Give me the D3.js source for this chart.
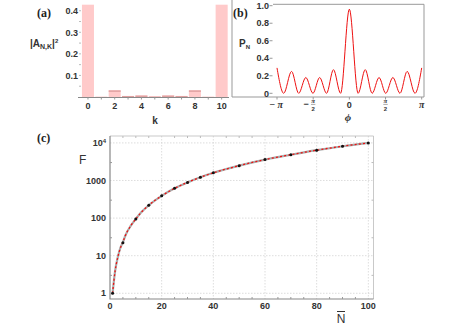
<!DOCTYPE html>
<html>
<head>
<meta charset="utf-8">
<script src="https://cdn.jsdelivr.net/npm/d3@7"></script>
<style>
  body { margin: 0; background: #fff; }
  svg text { font-family: "Liberation Sans", Arial, sans-serif; }
</style>
</head>
<body>
<svg id="fig" width="463" height="328"></svg>
<script>
// (a) amplitude distribution
const kValues = [0, 1, 2, 3, 4, 5, 6, 7, 8, 9, 10];
const ampSq = [0.43, 0.002, 0.031, 0.005, 0.007, 0.003, 0.007, 0.005, 0.031, 0.002, 0.43];
const ampTicks = [0.1, 0.2, 0.3, 0.4];

// (b) phase response, read at the extrema of the curve
const phi = [-3.14159, -2.85, -2.51, -2.2, -1.89, -1.58, -1.29, -0.99, -0.69, -0.38, 0,
             0.38, 0.69, 0.99, 1.29, 1.58, 1.89, 2.2, 2.51, 2.85, 3.14159];
const pN = [0.29, 0, 0.25, 0, 0.18, 0, 0.18, 0, 0.27, 0, 0.96,
            0, 0.27, 0, 0.18, 0, 0.18, 0, 0.25, 0, 0.29];
const pTicks = [0, 0.2, 0.4, 0.6, 0.8, 1.0];

// (c) F versus mean N
const nCurve = [1, 2, 3, 4, 5, 6, 8, 10, 12, 15, 20, 25, 30, 35, 40, 50, 60, 70, 80, 90, 100];
const fCurve = [1, 4, 9, 16, 23, 35, 62, 95, 140, 220, 390, 620, 890, 1220, 1600, 2480, 3600, 4850, 6400, 8150, 10000];
const nPoints = [1, 5, 10, 15, 20, 25, 30, 35, 40, 50, 60, 70, 80, 90, 100];
const fPoints = [1, 22, 95, 220, 390, 620, 890, 1220, 1600, 2480, 3600, 4850, 6400, 8150, 10000];
const nTicks = [0, 20, 40, 60, 80, 100];
const fTicks = [1, 10, 100, 1000, 10000];

const svg = d3.select("#fig");
const tickFont = "bold 9px 'Liberation Sans', Arial, sans-serif";
const panelFont = "bold 12px 'Liberation Serif', 'DejaVu Serif', serif";

// ---------- panel (a) ----------
const xa = d3.scaleBand().domain(kValues).range([80.6, 229]).padding(0.1);
const ya = d3.scaleLinear().domain([0, 0.428]).range([97, 4.7]);
const ga = svg.append("g");

ga.selectAll("rect.bar")
  .data(kValues.map((k, i) => ({k: k, v: ampSq[i]})))
  .join("rect")
  .attr("x", d => xa(d.k))
  .attr("y", d => ya(Math.min(d.v, 0.428)))
  .attr("width", xa.bandwidth())
  .attr("height", d => ya(0) - ya(Math.min(d.v, 0.428)))
  .attr("fill", d => d.k === 5 ? "#f0a0a0" : "#ffcaca");

// darker cap on the small bars
ga.selectAll("line.cap")
  .data(kValues.map((k, i) => ({k: k, v: ampSq[i]})).filter(d => d.v < 0.4 && d.v > 0.004))
  .join("line")
  .attr("x1", d => xa(d.k)).attr("x2", d => xa(d.k) + xa.bandwidth())
  .attr("y1", d => ya(d.v) + 0.8).attr("y2", d => ya(d.v) + 0.8)
  .attr("stroke", d => d.k === 5 ? "#dd5555" : "#e0a0a0").attr("stroke-width", 1.5);

ga.append("line")
  .attr("x1", 78).attr("x2", 229).attr("y1", 97.5).attr("y2", 97.5)
  .attr("stroke", "#888");

ga.selectAll("line.kt").data(kValues).join("line")
  .attr("x1", d => xa(d) + xa.bandwidth() / 2).attr("x2", d => xa(d) + xa.bandwidth() / 2)
  .attr("y1", 97.5).attr("y2", 99.5).attr("stroke", "#999");

ga.selectAll("text.kl").data(kValues.filter(k => k % 2 === 0)).join("text")
  .attr("x", d => xa(d) + xa.bandwidth() / 2).attr("y", 108.5)
  .attr("text-anchor", "middle").style("font", tickFont).attr("fill", "#333")
  .text(d => d);

ga.selectAll("line.at").data([0.05, 0.1, 0.15, 0.2, 0.25, 0.3, 0.35, 0.4]).join("line")
  .attr("x1", 79).attr("x2", 81).attr("y1", d => ya(d)).attr("y2", d => ya(d))
  .attr("stroke", "#bbb");

ga.selectAll("text.al").data(ampTicks).join("text")
  .attr("x", 78).attr("y", d => ya(d) + 3.2)
  .attr("text-anchor", "end").style("font", tickFont).attr("fill", "#333")
  .text(d => d3.format(".1f")(d));

const alab = ga.append("text").attr("x", 30).attr("y", 47).attr("fill", "#333")
  .style("font", "bold 10px 'Liberation Sans', Arial, sans-serif");
alab.append("tspan").text("|A");
alab.append("tspan").attr("dy", 2).style("font-size", "7px").text("N,K");
alab.append("tspan").attr("dy", -2).text("|");
alab.append("tspan").attr("dy", -4).style("font-size", "6px").text("2");

ga.append("text").attr("x", 155).attr("y", 124).attr("text-anchor", "middle")
  .style("font", "bold 10px 'Liberation Sans', Arial, sans-serif").attr("fill", "#333").text("k");

ga.append("text").attr("x", 37).attr("y", 17).style("font", panelFont).attr("fill", "#222").text("(a)");

// ---------- panel (b) ----------
const xb = d3.scaleLinear().domain([-Math.PI, Math.PI]).range([277, 421.7]);
const yb = d3.scaleLinear().domain([0, 1]).range([93.3, 5.7]);
const gb = svg.append("g");

gb.append("path")
  .attr("d", "M273,4.3H424V97H232V0")
  .attr("fill", "none").attr("stroke", "#999");

gb.append("path")
  .datum(phi.map((p, i) => [p, pN[i]]))
  .attr("d", d3.line().x(d => xb(d[0])).y(d => yb(d[1])).curve(d3.curveMonotoneX))
  .attr("fill", "none").attr("stroke", "#ee1111").attr("stroke-width", 1);

gb.selectAll("line.yt").data(pTicks).join("line")
  .attr("x1", 269.5).attr("x2", 272.5).attr("y1", d => yb(d)).attr("y2", d => yb(d))
  .attr("stroke", "#999");
gb.selectAll("text.yl").data(pTicks).join("text")
  .attr("x", 269).attr("y", d => yb(d) + 3.2)
  .attr("text-anchor", "end").style("font", tickFont).attr("fill", "#333")
  .text(d => d === 0 ? "0" : d3.format(".1f")(d));

const phiTicks = [-Math.PI, -Math.PI / 2, 0, Math.PI / 2, Math.PI];
gb.selectAll("line.xt").data(phiTicks).join("line")
  .attr("x1", d => xb(d)).attr("x2", d => xb(d)).attr("y1", 97).attr("y2", 99.5)
  .attr("stroke", "#999");

const piFont = "italic bold 10px 'Liberation Serif', serif";
gb.append("text").attr("x", xb(-Math.PI) - 1).attr("y", 108).attr("text-anchor", "middle")
  .style("font", piFont).attr("fill", "#333").text("− π");
gb.append("text").attr("x", xb(Math.PI)).attr("y", 108).attr("text-anchor", "middle")
  .style("font", piFont).attr("fill", "#333").text("π");
gb.append("text").attr("x", xb(0)).attr("y", 108).attr("text-anchor", "middle")
  .style("font", tickFont).attr("fill", "#333").text("0");
[-1, 1].forEach(s => {
  const cx = xb(s * Math.PI / 2);
  if (s < 0) {
    gb.append("text").attr("x", cx - 4.5).attr("y", 107).attr("text-anchor", "end")
      .style("font", "bold 9px 'Liberation Sans', sans-serif").attr("fill", "#333").text("−");
  }
  gb.append("text").attr("x", cx).attr("y", 103).attr("text-anchor", "middle")
    .style("font", "italic bold 7px 'Liberation Serif', serif").attr("fill", "#333").text("π");
  gb.append("line").attr("x1", cx - 2.2).attr("x2", cx + 2.2).attr("y1", 104.4).attr("y2", 104.4)
    .attr("stroke", "#555").attr("stroke-width", 0.5);
  gb.append("text").attr("x", cx).attr("y", 111).attr("text-anchor", "middle")
    .style("font", "bold 6px 'Liberation Sans', sans-serif").attr("fill", "#333").text("2");
});

const blab = gb.append("text").attr("x", 239).attr("y", 46.5).attr("fill", "#333")
  .style("font", "bold 10px 'Liberation Sans', Arial, sans-serif");
blab.append("tspan").text("P");
blab.append("tspan").attr("dy", 2).style("font-size", "6px").text("N");

gb.append("text").attr("x", 348).attr("y", 121).attr("text-anchor", "middle")
  .style("font", "italic bold 11px 'Liberation Serif', serif").attr("fill", "#333").text("ϕ");

gb.append("text").attr("x", 233).attr("y", 17).style("font", panelFont).attr("fill", "#222").text("(b)");

// ---------- panel (c) ----------
const xc = d3.scaleLinear().domain([0, 102]).range([110, 373.5]);
const yc = d3.scaleLog().domain([0.705, 15260]).range([299, 136]);
const gc = svg.append("g");

gc.selectAll("line.gx").data([20, 40, 60, 80, 100]).join("line")
  .attr("x1", d => xc(d)).attr("x2", d => xc(d)).attr("y1", 136).attr("y2", 299)
  .attr("stroke", "#d4d4d4").attr("stroke-width", 0.8).attr("stroke-dasharray", "1.5,1.5");
gc.selectAll("line.gy").data(fTicks).join("line")
  .attr("x1", 110).attr("x2", 373.5).attr("y1", d => yc(d)).attr("y2", d => yc(d))
  .attr("stroke", "#d4d4d4").attr("stroke-width", 0.8).attr("stroke-dasharray", "1.5,1.5");

// frame
gc.append("path").attr("d", "M110,136H373.5V299").attr("fill", "none")
  .attr("stroke", "#bbb").attr("stroke-width", 0.8);
gc.append("path").attr("d", "M110,136V299H373.5").attr("fill", "none")
  .attr("stroke", "#888").attr("stroke-width", 1.2);

// minor ticks
const minorN = d3.range(5, 101, 5).filter(n => n % 20 !== 0);
gc.selectAll("line.mx").data(minorN).join("line")
  .attr("x1", d => xc(d)).attr("x2", d => xc(d)).attr("y1", 299).attr("y2", 297)
  .attr("stroke", "#999");
gc.selectAll("line.mxt").data(minorN).join("line")
  .attr("x1", d => xc(d)).attr("x2", d => xc(d)).attr("y1", 136).attr("y2", 138)
  .attr("stroke", "#bbb");
gc.selectAll("line.my").data([3, 30, 300, 3000]).join("line")
  .attr("x1", 110).attr("x2", 112).attr("y1", d => yc(d)).attr("y2", d => yc(d))
  .attr("stroke", "#999");
gc.selectAll("line.myr").data([3, 30, 300, 3000]).join("line")
  .attr("x1", 373.5).attr("x2", 371.5).attr("y1", d => yc(d)).attr("y2", d => yc(d))
  .attr("stroke", "#bbb");

const curveData = nCurve.map((n, i) => [n, fCurve[i]]);
const fLine = d3.line().x(d => xc(d[0])).y(d => yc(d[1])).curve(d3.curveMonotoneX);
gc.append("path").datum(curveData).attr("d", fLine)
  .attr("fill", "none").attr("stroke", "#aaaaaa").attr("stroke-width", 2.2);
gc.append("path").datum(curveData).attr("d", fLine)
  .attr("fill", "none").attr("stroke", "#ee1111").attr("stroke-width", 1.3)
  .attr("stroke-dasharray", "2,2.2");

gc.selectAll("circle.pt").data(nPoints.map((n, i) => [n, fPoints[i]])).join("circle")
  .attr("cx", d => xc(d[0])).attr("cy", d => yc(d[1])).attr("r", 1.5).attr("fill", "#111");

gc.selectAll("text.xl").data(nTicks).join("text")
  .attr("x", d => xc(d)).attr("y", 308.5).attr("text-anchor", "middle")
  .style("font", tickFont).attr("fill", "#333").text(d => d);

gc.selectAll("text.yl").data(fTicks).join("text")
  .attr("x", 106).attr("y", d => yc(d) + 3.2).attr("text-anchor", "end")
  .style("font", tickFont).attr("fill", "#333")
  .each(function(d) {
    const t = d3.select(this);
    if (d === 10000) {
      t.append("tspan").text("10");
      t.append("tspan").attr("dy", -3.5).style("font-size", "6px").text("4");
    } else {
      t.text(d);
    }
  });

gc.append("text").attr("x", 79).attr("y", 164)
  .style("font", "12px 'Liberation Sans', Arial, sans-serif").attr("fill", "#333").text("F");

gc.append("text").attr("x", 341).attr("y", 323).attr("text-anchor", "middle")
  .style("font", "12px 'Liberation Sans', Arial, sans-serif").attr("fill", "#333").text("N");
gc.append("line").attr("x1", 337).attr("x2", 345).attr("y1", 311.5).attr("y2", 311.5)
  .attr("stroke", "#333").attr("stroke-width", 1);

gc.append("text").attr("x", 37).attr("y", 142).style("font", panelFont).attr("fill", "#222").text("(c)");
</script>
</body>
</html>
